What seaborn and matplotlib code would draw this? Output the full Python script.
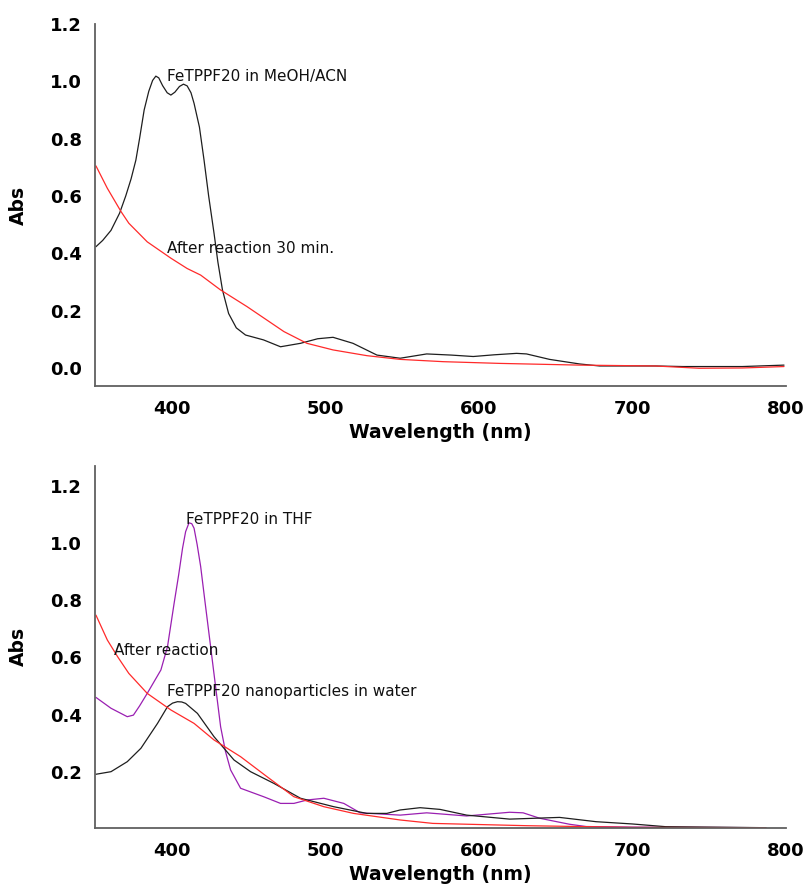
import numpy as np
import pandas as pd
import matplotlib
matplotlib.use("Agg")
import matplotlib.pyplot as plt
import seaborn as sns

# ---------------- data ----------------
# Top panel
top_fe_x = [350.6, 355, 360.4, 366, 370, 373.5, 376.6, 379, 382, 385, 387.5, 389.6, 391.5, 394,
            397, 399.4, 402, 405, 407.6, 410, 412.5, 414.5, 418, 421, 424, 427.5, 430, 433, 437,
            442, 448, 459.7, 470.8, 483.8, 495, 505, 518, 533.6, 548.7, 566, 582, 596.3, 610,
            624.5, 631, 646, 665.6, 678.6, 715, 732.7, 771.6, 798.7]
top_fe_y = [0.423, 0.445, 0.48, 0.54, 0.60, 0.66, 0.725, 0.80, 0.90, 0.965, 1.003, 1.018, 1.012, 0.985,
            0.96, 0.952, 0.962, 0.982, 0.99, 0.984, 0.96, 0.923, 0.84, 0.725, 0.60, 0.47, 0.37, 0.272,
            0.19, 0.14, 0.115, 0.098, 0.074, 0.086, 0.102, 0.107, 0.086, 0.045, 0.034, 0.049, 0.045,
            0.040, 0.046, 0.051, 0.049, 0.030, 0.014, 0.007, 0.007, 0.005, 0.005, 0.010]

top_rx_x = [350.6, 358, 367, 372, 384, 399.4, 410, 418.8, 431.8, 449, 473, 488, 505, 527,
            548.7, 576.8, 613.6, 665.6, 715, 743.5, 771.6, 798.7]
top_rx_y = [0.705, 0.627, 0.545, 0.505, 0.44, 0.383, 0.347, 0.324, 0.272, 0.214, 0.127, 0.086,
            0.063, 0.043, 0.030, 0.022, 0.016, 0.010, 0.007, -0.001, 0.0, 0.005]

# Bottom panel
thf_x = [350.6, 360.4, 371, 375, 379, 384, 392.9, 397.2, 401.5, 404.5, 407, 409, 411.2, 413,
         414.5, 416.5, 418.8, 421.5, 424.2, 428, 431.8, 435, 438.3, 444.8, 460, 470.8, 479.5,
         488.2, 499, 512, 522.7, 548.7, 566, 592, 620, 628.8, 639.6, 659, 669.9, 700, 740, 786.8]
thf_y = [0.46, 0.422, 0.3925, 0.398, 0.43, 0.474, 0.556, 0.6375, 0.789, 0.89, 0.982, 1.04, 1.071, 1.068,
         1.052, 0.995, 0.918, 0.80, 0.684, 0.52, 0.357, 0.27, 0.206, 0.142, 0.112, 0.089, 0.089,
         0.101, 0.107, 0.089, 0.056, 0.048, 0.056, 0.045, 0.058, 0.056, 0.037, 0.016, 0.008, 0.006,
         0.005, 0.004]

nano_x = [350.6, 360.4, 371, 379.9, 390.7, 397.2, 400.5, 403.7, 406.5, 409, 416.7, 427.5, 440.5,
          451.3, 466.5, 483.8, 505.4, 527, 540, 548.7, 561.7, 574.7, 592, 620, 652.5, 676.3, 700,
          721.6, 786.8]
nano_y = [0.191, 0.20, 0.235, 0.282, 0.369, 0.4275, 0.44, 0.445, 0.444, 0.439, 0.404, 0.3225, 0.241,
          0.20, 0.159, 0.107, 0.0775, 0.054, 0.054, 0.066, 0.074, 0.068, 0.048, 0.034, 0.040, 0.025,
          0.017, 0.0075, 0.004]

rx_x = [350.6, 358, 365, 372, 384, 399.4, 414.5, 427.5, 444.8, 462, 479.5, 499, 518.4, 548.7, 570,
        631, 700, 786.8]
rx_y = [0.748, 0.661, 0.60, 0.544, 0.474, 0.416, 0.369, 0.311, 0.2525, 0.1825, 0.1125, 0.0775, 0.054,
        0.031, 0.019, 0.011, 0.005, 0.004]

y_ticks = [0.0, 0.2, 0.4, 0.6, 0.8, 1.0, 1.2]
y_ticks_bottom = [0.2, 0.4, 0.6, 0.8, 1.0, 1.2]
x_ticks = [400, 500, 600, 700, 800]

# ---------------- figure ----------------
sns.set_style("white")
plt.rcParams['font.family'] = ['DejaVu Sans']

fig = plt.figure(figsize=(8.08, 8.84), dpi=100)
ax1 = fig.add_axes([0.1176, 0.5633, 0.8552, 0.4096])
ax2 = fig.add_axes([0.1176, 0.0637, 0.8552, 0.4092])

BLACK = '#1e1e1e'
RED = '#ff2a2a'
PURPLE = '#9a1fb2'
SPINE = '#606060'

sns.lineplot(x=top_fe_x, y=top_fe_y, ax=ax1, color=BLACK, lw=0.9, sort=False)
sns.lineplot(x=top_rx_x, y=top_rx_y, ax=ax1, color=RED, lw=0.9, sort=False)

sns.lineplot(x=thf_x, y=thf_y, ax=ax2, color=PURPLE, lw=0.9, sort=False)
sns.lineplot(x=nano_x, y=nano_y, ax=ax2, color=BLACK, lw=0.9, sort=False)
sns.lineplot(x=rx_x, y=rx_y, ax=ax2, color=RED, lw=0.9, sort=False)

ax1.set_xlim(350, 800)
ax1.set_ylim(-0.063, 1.2)
ax2.set_xlim(350, 800)
ax2.set_ylim(0.004, 1.27)

ax1.set_yticks(y_ticks)
ax2.set_yticks(y_ticks_bottom)

for ax in (ax1, ax2):
    ax.set_xticks(x_ticks)
    ax.set_yticklabels([f"{v:.1f}" for v in ax.get_yticks()])
    sns.despine(ax=ax, top=True, right=True)
    for s in ('left', 'bottom'):
        ax.spines[s].set_color(SPINE)
        ax.spines[s].set_linewidth(1.3)
    ax.tick_params(axis='y', direction='out', length=7.2, width=1.0, color=SPINE,
                   pad=2, labelsize=13, labelcolor='black')
    ax.tick_params(axis='x', direction='out', length=5, width=1.0, color=SPINE,
                   pad=5, labelsize=13, labelcolor='black')
    for lab in ax.get_xticklabels() + ax.get_yticklabels():
        lab.set_fontweight('bold')
    ax.set_xlabel("Wavelength (nm)", fontsize=13.5, fontweight='bold', color='black')
    ax.set_ylabel("Abs", fontsize=13.5, fontweight='bold', color='black')
    ax.yaxis.set_label_coords(-0.097, 0.5)
    ax.xaxis.set_label_coords(0.5, -0.102)
    ax.patch.set_alpha(0)

TXT = '#111111'
ax1.text(396.9, 1.018, "FeTPPF20 in MeOH/ACN", fontsize=11, color=TXT, va='center', ha='left')
ax1.text(397.1, 0.417, "After reaction 30 min.", fontsize=11, color=TXT, va='center', ha='left')
ax2.text(409.3, 1.083, "FeTPPF20 in THF", fontsize=11, color=TXT, va='center', ha='left')
ax2.text(362.4, 0.6225, "After reaction", fontsize=11, color=TXT, va='center', ha='left')
ax2.text(397.1, 0.48, "FeTPPF20 nanoparticles in water", fontsize=11, color=TXT, va='center', ha='left')

fig.savefig("out.png", dpi=100, facecolor='white')
